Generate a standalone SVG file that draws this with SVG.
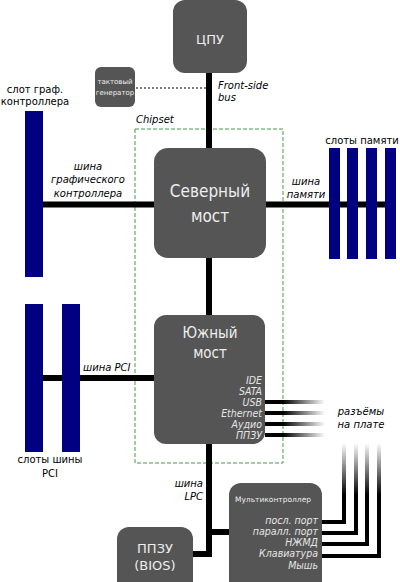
<svg xmlns="http://www.w3.org/2000/svg" width="400" height="582" viewBox="0 0 400 582">
<style>
.node{fill:#555555}
.nt{fill:#eeeeee;font-family:"DejaVu Sans",sans-serif;text-anchor:middle}
.nc{fill:#eeeeee;font-family:"DejaVu Sans Condensed","DejaVu Sans",sans-serif;text-anchor:middle}
.pt{fill:#e6e6e6;font-family:"DejaVu Sans Condensed","DejaVu Sans",sans-serif;font-style:italic;font-size:10.5px;text-anchor:end}
.lbl{fill:#000;font-family:"DejaVu Sans",sans-serif;font-size:10px}
.it{font-style:italic}
.bus{stroke:#000;stroke-width:6;fill:none}
.slot{fill:#000080}
</style>
<defs>
<linearGradient id="fadeR" gradientUnits="userSpaceOnUse" x1="265" y1="0" x2="325" y2="0">
<stop offset="0.3" stop-color="#000"/><stop offset="1" stop-color="#fff"/>
</linearGradient>
<linearGradient id="fadeU" gradientUnits="userSpaceOnUse" x1="0" y1="495" x2="0" y2="443">
<stop offset="0" stop-color="#000"/><stop offset="1" stop-color="#fff"/>
</linearGradient>
</defs>

<g id="chipset">
<rect x="135" y="129" width="148" height="334" fill="none" stroke="#4a9a4a" stroke-width="1" stroke-dasharray="4,2"/>
<text x="136" y="123" class="lbl it">Chipset</text>
</g>

<g id="connectors">
<line x1="209" y1="73" x2="209" y2="149" class="bus"/>
<line x1="136" y1="88" x2="206" y2="88" stroke="#000" stroke-width="1" stroke-dasharray="2,2"/>
<line x1="43" y1="204.5" x2="154" y2="204.5" class="bus"/>
<line x1="265" y1="204.5" x2="390" y2="204.5" class="bus"/>
<line x1="209" y1="258" x2="209" y2="315" class="bus"/>
<line x1="43" y1="378" x2="154" y2="378" class="bus"/>
<path d="M209 444 V557" class="bus"/>
<line x1="209" y1="532" x2="229" y2="532" class="bus"/>
<line x1="192" y1="554" x2="209" y2="554" class="bus"/>
<g stroke="url(#fadeR)" stroke-width="4">
<line x1="265" y1="402" x2="325" y2="402"/>
<line x1="265" y1="413" x2="325" y2="413"/>
<line x1="265" y1="424" x2="325" y2="424"/>
<line x1="265" y1="435" x2="325" y2="435"/>
</g>
<g fill="none" stroke="#000" stroke-width="4">
<path d="M321 522 H344 V497"/>
<path d="M321 533 H356 V497"/>
<path d="M321 544 H367 V497"/>
<path d="M321 556 H379 V497"/>
</g>
<g stroke="url(#fadeU)" stroke-width="4">
<line x1="344" y1="499" x2="344" y2="443"/>
<line x1="356" y1="499" x2="356" y2="443"/>
<line x1="367" y1="499" x2="367" y2="443"/>
<line x1="379" y1="499" x2="379" y2="443"/>
</g>
<text x="218" y="89" class="lbl it">Front-side</text>
<text x="218" y="101" class="lbl it">bus</text>
<g class="lbl it" text-anchor="middle">
<text x="88" y="170">шина</text>
<text x="88" y="183">графического</text>
<text x="88" y="197">контроллера</text>
</g>
<g class="lbl it" text-anchor="middle">
<text x="306" y="185">шина</text>
<text x="306" y="198">памяти</text>
</g>
<text x="83" y="371" class="lbl it">шина PCI</text>
<g class="lbl it" text-anchor="end">
<text x="203" y="487">шина</text>
<text x="203" y="500">LPC</text>
</g>
<g class="lbl it" text-anchor="middle">
<text x="361" y="415">разъёмы</text>
<text x="361" y="428">на плате</text>
</g>
</g>

<g id="slots-agp">
<rect x="25" y="111" width="18" height="166" class="slot"/>
<g class="lbl" text-anchor="middle">
<text x="35" y="93">слот граф.</text>
<text x="35" y="105">контроллера</text>
</g>
</g>

<g id="slots-mem">
<rect x="329" y="148" width="11" height="111" class="slot"/>
<rect x="347" y="148" width="11" height="111" class="slot"/>
<rect x="366" y="148" width="11" height="111" class="slot"/>
<rect x="385" y="148" width="11" height="111" class="slot"/>
<text x="362" y="144" class="lbl" text-anchor="middle">слоты памяти</text>
</g>

<g id="slots-pci">
<rect x="25" y="304" width="18" height="148" class="slot"/>
<rect x="62" y="304" width="18" height="148" class="slot"/>
<g class="lbl" text-anchor="middle">
<text x="50" y="463">слоты шины</text>
<text x="50" y="477">PCI</text>
</g>
</g>

<g id="cpu">
<rect x="173" y="0" width="74" height="73" rx="12" class="node"/>
<text x="210" y="44" class="nt" font-size="13">ЦПУ</text>
</g>

<g id="clock">
<rect x="95" y="67" width="40" height="40" rx="6" class="node"/>
<text x="115" y="84" class="nt" font-size="7">тактовый</text>
<text x="115" y="95" class="nt" font-size="7">генератор</text>
</g>

<g id="northbridge">
<rect x="154" y="148" width="112" height="110" rx="14" class="node"/>
<text x="210" y="197" class="nc" font-size="17">Северный</text>
<text x="210" y="222" class="nc" font-size="17">мост</text>
</g>

<g id="southbridge">
<rect x="154" y="315" width="111" height="129" rx="12" class="node"/>
<text x="210" y="338" class="nc" font-size="15">Южный</text>
<text x="210" y="358" class="nc" font-size="15">мост</text>
<text x="262" y="384" class="pt">IDE</text>
<text x="262" y="395" class="pt">SATA</text>
<text x="262" y="406" class="pt">USB</text>
<text x="262" y="417" class="pt">Ethernet</text>
<text x="262" y="428" class="pt">Аудио</text>
<text x="262" y="439" class="pt">ППЗУ</text>
</g>

<g id="bios">
<rect x="117" y="527" width="76" height="70" rx="12" class="node"/>
<text x="155" y="553" class="nt" font-size="13">ППЗУ</text>
<text x="155" y="570" class="nt" font-size="13">(BIOS)</text>
</g>

<g id="multicontroller">
<rect x="229" y="483" width="93" height="110" rx="12" class="node"/>
<text x="273" y="502" class="nt" font-size="7.5">Мультиконтроллер</text>
<text x="318" y="524" class="pt">посл. порт</text>
<text x="318" y="535" class="pt">паралл. порт</text>
<text x="318" y="546" class="pt">НЖМД</text>
<text x="318" y="557" class="pt">Клавиатура</text>
<text x="318" y="569" class="pt">Мышь</text>
</g>
</svg>
